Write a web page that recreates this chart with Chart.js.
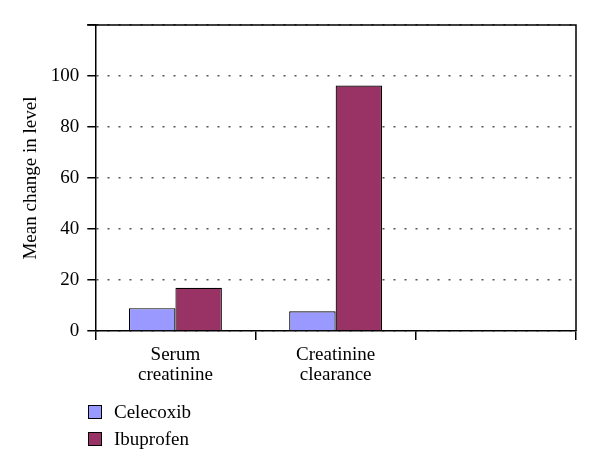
<!DOCTYPE html>
<html>
<head>
<meta charset="utf-8">
<script src="https://cdn.jsdelivr.net/npm/chart.js@4.4.0/dist/chart.umd.min.js"></script>
<style>
  body { margin: 0; background: #fff; }
  #wrap { position: relative; width: 600px; height: 470px; }
  #legend { position: absolute; left: 88px; top: 398px; font-family: "Liberation Serif", serif; font-size: 19px; color: #000; }
  #legend div { height: 27px; display: flex; align-items: center; }
  #legend span.box { display: inline-block; width: 12px; height: 12px; border: 1px solid #000; margin-right: 12px; }
</style>
</head>
<body>
<div id="wrap">
  <canvas id="chart" width="600" height="470"></canvas>
  <div id="legend"></div>
</div>
<script>
var categories = [["Serum", "creatinine"], ["Creatinine", "clearance"], ""];
var seriesNames = ["Celecoxib", "Ibuprofen"];
var celecoxib = [9, 7.8, null];
var ibuprofen = [17, 96.3, null];
var yTicks = [0, 20, 40, 60, 80, 100, 120];
var colors = ["#9999ff", "#993366"];

var font = { family: "'Liberation Serif', serif", size: 19 };

var frame = {
  id: 'frame',
  afterDraw: function (chart) {
    var a = chart.chartArea, ctx = chart.ctx;
    ctx.save();
    ctx.strokeStyle = '#000';
    ctx.lineWidth = 1.5;
    ctx.beginPath();
    ctx.moveTo(a.left - 8, a.top);
    ctx.lineTo(a.right, a.top);
    ctx.lineTo(a.right, a.bottom);
    ctx.stroke();
    ctx.restore();
  }
};

new Chart(document.getElementById("chart"), {
  type: 'bar',
  data: {
    labels: categories,
    datasets: [
      { label: seriesNames[0], data: celecoxib, backgroundColor: colors[0], borderColor: '#000', borderWidth: 1.2 },
      { label: seriesNames[1], data: ibuprofen, backgroundColor: colors[1], borderColor: '#000', borderWidth: 1.2 }
    ]
  },
  options: {
    responsive: false,
    animation: false,
    layout: { padding: { top: 25, right: 24, bottom: 80, left: 6 } },
    datasets: { bar: { categoryPercentage: 0.58, barPercentage: 1 } },
    plugins: { legend: { display: false }, tooltip: { enabled: false } },
    scales: {
      x: {
        grid: { offset: true, drawOnChartArea: false, tickLength: 9, color: '#000', lineWidth: 1.5 },
        border: { color: '#000', width: 1.5 },
        ticks: { color: '#000', font: { family: font.family, size: 19, lineHeight: 1.05 }, padding: 5 }
      },
      y: {
        min: 0, max: 120,
        afterBuildTicks: function (axis) { axis.ticks = yTicks.map(function (v) { return { value: v }; }); },
        ticks: {
          color: '#000', font: font, padding: 8,
          callback: function (v) { return v === 120 ? '' : v; }
        },
        grid: { color: '#555', lineWidth: 1.5, tickColor: '#000', tickBorderDash: [], tickLength: 8, tickWidth: 1.5 },
        border: { color: '#000', width: 1.5, dash: [2, 9] },
        title: { display: true, text: 'Mean change in level', color: '#000', font: font, padding: { top: 14, bottom: 0 } }
      }
    }
  },
  plugins: [frame]
});

var legend = document.getElementById('legend');
seriesNames.forEach(function (name, i) {
  var row = document.createElement('div');
  var box = document.createElement('span');
  box.className = 'box';
  box.style.background = colors[i];
  row.appendChild(box);
  row.appendChild(document.createTextNode(name));
  legend.appendChild(row);
});
</script>
</body>
</html>
